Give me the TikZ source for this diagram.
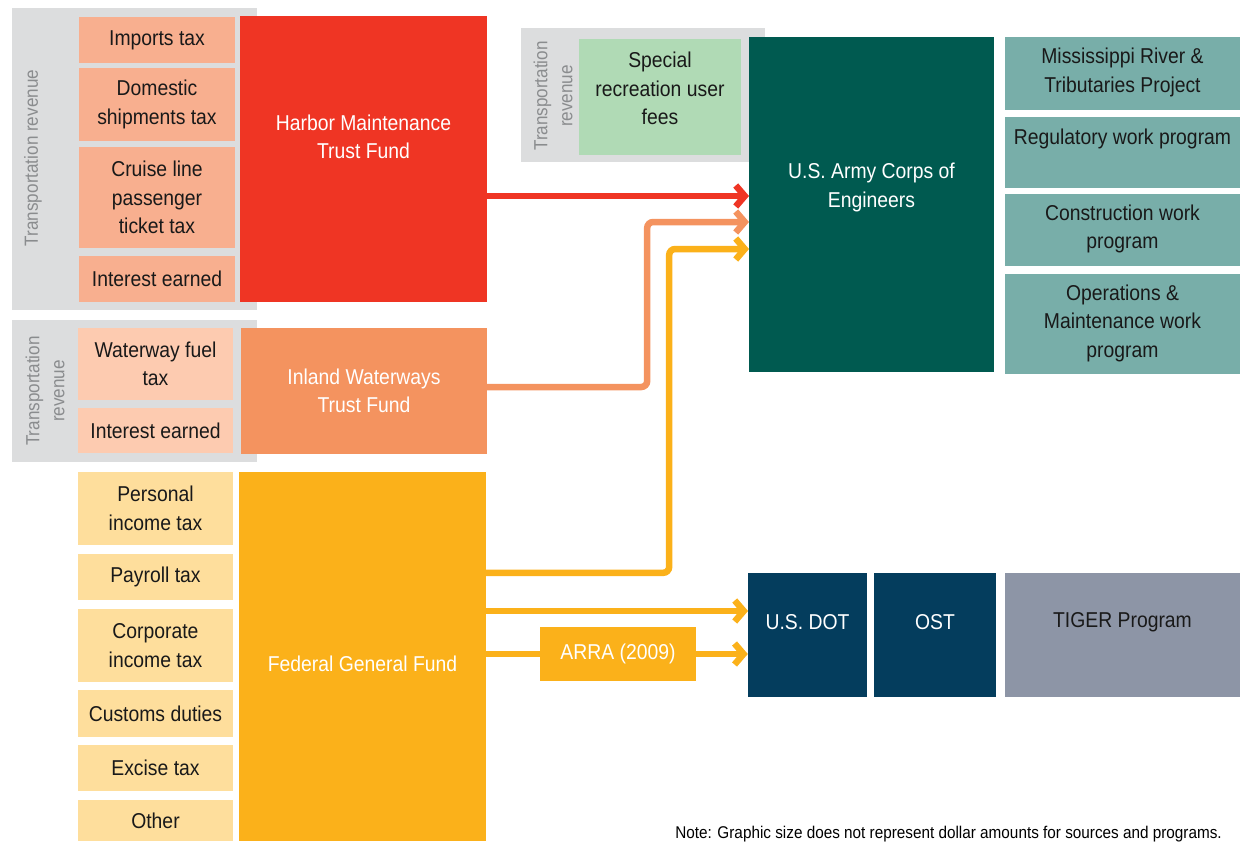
\documentclass[tikz,border=0pt]{standalone}
\usepackage{fontspec}
\setmainfont{Liberation Sans}[FakeStretch=0.9]
\usetikzlibrary{arrows.meta}

\definecolor{panelgray}{HTML}{DCDDDE}
\definecolor{sidegray}{HTML}{8A8C8E}
\definecolor{hmsrc}{HTML}{F8AF8F}
\definecolor{hmc}{HTML}{EF3524}
\definecolor{iwsrc}{HTML}{FDCBB0}
\definecolor{iwc}{HTML}{F4935F}
\definecolor{fgsrc}{HTML}{FEDE9C}
\definecolor{fgc}{HTML}{FBB11A}
\definecolor{recgreen}{HTML}{B0DAB5}
\definecolor{corpsc}{HTML}{005A50}
\definecolor{progteal}{HTML}{78AEA9}
\definecolor{dotc}{HTML}{043D5D}
\definecolor{tigerc}{HTML}{8D95A6}

\newcommand{\boxfont}{\fontsize{21.5}{28.5}\selectfont}
\newcommand{\sidefont}{\fontsize{19}{25}\selectfont}

\begin{document}
\begin{tikzpicture}[x=1pt, y=-1pt,
  src/.style={inner sep=0pt, align=center, font=\boxfont, text=black!90},
  fund/.style={inner sep=0pt, align=center, font=\boxfont, text=white},
  panel/.style={fill=panelgray, inner sep=0pt},
  side/.style={rotate=90, align=center, font=\sidefont, text=sidegray, inner sep=0pt},
  flow/.style={line width=6.5pt, rounded corners=6pt, -{Straight Barb[length=9pt,width=21pt]}}]
\useasboundingbox (0,0) rectangle (1240,841);

% grey backgrounds for transportation revenue
\node[panel, minimum width=245pt, minimum height=302pt] (pan1) at (134.5,159) {};
\node[panel, minimum width=245pt, minimum height=142pt] (pan2) at (134.5,391) {};
\node[panel, minimum width=244pt, minimum height=134pt] (pan3) at (643,95) {};
\node[side] (side1) at (33,158) {Transportation revenue};
\node[side] (side2) at (45,391) {Transportation\\revenue};
\node[side] (side3) at (553,96) {Transportation\\revenue};

% sources
\foreach \n/\t/\b/\txt in {1/17/63/{Imports tax},
                           2/68/141/{Domestic\\shipments tax},
                           3/147/248/{Cruise line\\passenger\\ticket tax},
                           4/256/302/{Interest earned}} {
  \node[src, fill=hmsrc, minimum width=156pt, minimum height={(\b-\t)*1pt}] (hm\n) at (157,{(\t+\b)/2}) {\txt};
}
\foreach \n/\t/\b/\txt in {1/328/400/{Waterway fuel\\tax},
                           2/408/453/{Interest earned}} {
  \node[src, fill=iwsrc, minimum width=155pt, minimum height={(\b-\t)*1pt}] (iw\n) at (155.5,{(\t+\b)/2}) {\txt};
}
\foreach \n/\t/\b/\txt in {1/472/545/{Personal\\income tax},
                           2/554/600/{Payroll tax},
                           3/609/682/{Corporate\\income tax},
                           4/690/737/{Customs duties},
                           5/745/791/{Excise tax},
                           6/800/841/{Other}} {
  \node[src, fill=fgsrc, minimum width=155pt, minimum height={(\b-\t)*1pt}] (fg\n) at (155.5,{(\t+\b)/2}) {\txt};
}
\node[src, fill=recgreen, minimum width=162pt, minimum height=116pt] (rec) at (660,97) {};
\node[src] (recl) at (660,88.5) {Special\\recreation user\\fees};

% funds
\node[fund, fill=hmc, minimum width=247pt, minimum height=286pt,
  label={[fund, yshift=22pt]center:Harbor Maintenance\\Trust Fund}] (hmtf) at (363.5,159) {};
\node[fund, fill=iwc, minimum width=246pt, minimum height=126pt] (iwtf) at (364,391) {Inland Waterways\\Trust Fund};
\node[fund, fill=fgc, minimum width=247pt, minimum height=369pt,
  label={[fund, yshift=-7pt]center:Federal General Fund}] (fgf) at (362.5,656.5) {};
\node[fund, fill=fgc, minimum width=156pt, minimum height=54pt] (arra) at (618,654) {ARRA (2009)};

% agencies and programs
\node[fund, fill=corpsc, minimum width=245pt, minimum height=335pt,
  label={[fund, yshift=17pt]center:U.S. Army Corps of\\Engineers}] (corps) at (871.5,204.5) {};
\foreach \n/\t/\b/\txt/\dy in {1/37/110/{Mississippi River \&\\Tributaries Project}/1,
                               2/117/188/{Regulatory work program}/14,
                               3/194/266/{Construction work\\program}/1,
                               4/274/374/{Operations \&\\Maintenance work\\program}/1} {
  \node[src, fill=progteal, minimum width=235pt, minimum height={(\b-\t)*1pt},
    label={[src, yshift=\dy pt]center:\txt}] (prog\n) at (1122.5,{(\t+\b)/2}) {};
}
\node[fund, fill=dotc, minimum width=119pt, minimum height=124pt,
  label={[fund, yshift=13pt]center:U.S. DOT}] (dot) at (807.5,635) {};
\node[fund, fill=dotc, minimum width=122pt, minimum height=124pt,
  label={[fund, yshift=13pt]center:OST}] (ost) at (935,635) {};
\node[src, fill=tigerc, minimum width=235pt, minimum height=124pt,
  label={[src, yshift=13pt]center:TIGER Program}] (tiger) at (1122.5,635) {};

% flows
\coordinate (in1) at (749,196);
\coordinate (in2) at (749,222);
\coordinate (in3) at (749,249);
\coordinate (out1) at (748,611);
\draw[flow, hmc] (hmtf.east |- in1) -- (in1);
\draw[flow, iwc] ([yshift=4pt]iwtf.east) -- ++(160,0) |- (in2);
\draw[flow, fgc] ([yshift=-101pt]fgf.north east) -- ++(183,0) |- (in3);
\draw[flow, fgc] (fgf.east |- out1) -- (out1);
\draw[line width=6.5pt, fgc] (fgf.east |- arra) -- (arra.west);
\draw[flow, fgc] (arra.east) -- (dot.west |- arra);

\node[anchor=base east, font=\fontsize{17}{20}\selectfont, inner sep=0pt] (note) at (1222,838)
  {Note: Graphic size does not represent dollar amounts for sources and programs.};
\end{tikzpicture}
\end{document}
